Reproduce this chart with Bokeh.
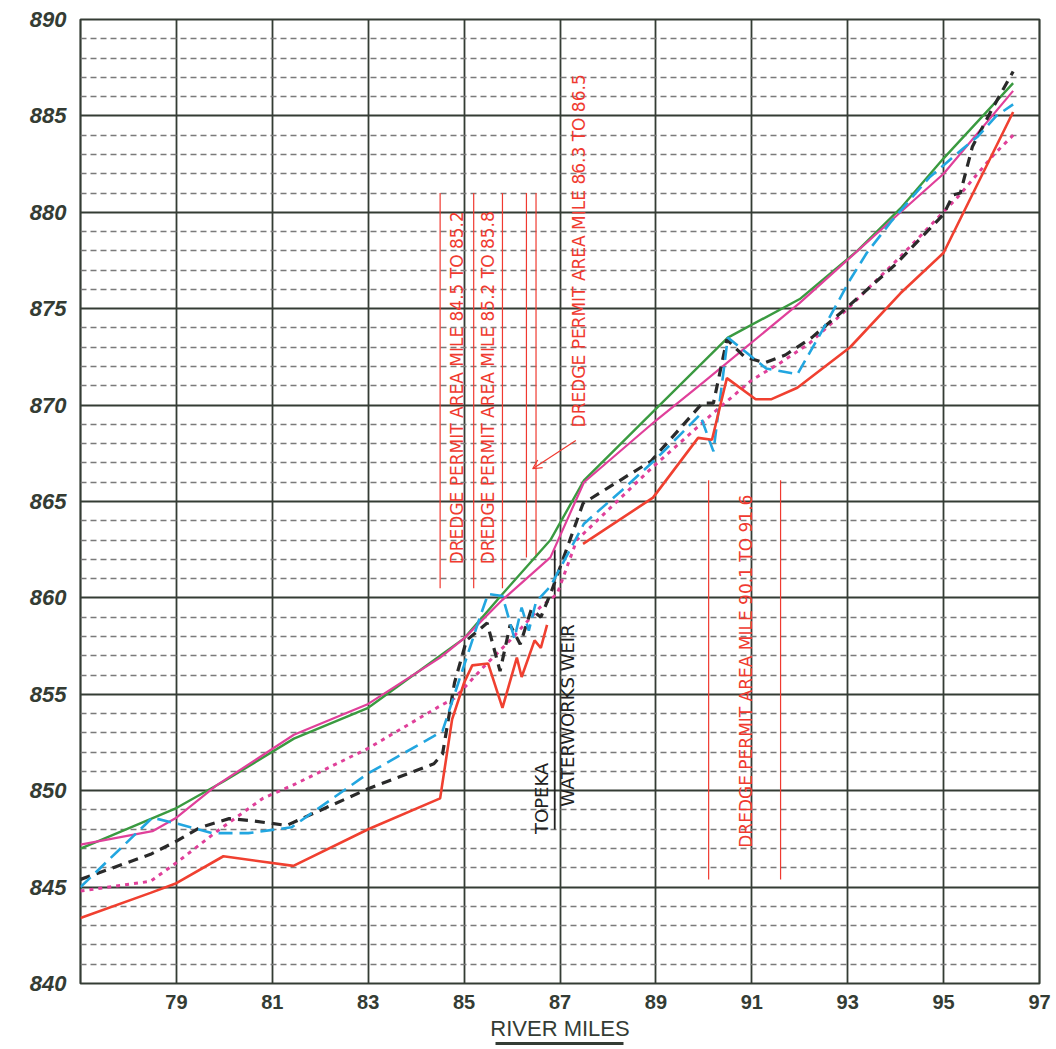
import math
from bokeh.plotting import figure
from bokeh.models import FixedTicker, Range1d, Arrow, OpenHead, LinearAxis
from bokeh.core.properties import value
from bokeh.embed import file_html
from bokeh.resources import INLINE

nan = float("nan")

# ---- data (river mile, elevation) ----
green_x = [77.0, 79.0, 80.0, 81.45, 83.0, 84.5, 85.0, 85.8, 86.8, 87.5, 89.0, 90.5, 92.0, 93.2, 94.1, 95.0, 96.45]
green_y = [847.0, 849.1, 850.5, 852.7, 854.3, 857.0, 857.9, 860.2, 863.0, 866.1, 869.8, 873.5, 875.5, 878.0, 880.2, 882.8, 886.7]

magenta_x = [77.0, 78.5, 79.0, 79.85, 81.45, 83.0, 84.5, 85.0, 85.8, 86.8, 87.5, 89.0, 90.0, 92.0, 94.1, 95.0, 96.45]
magenta_y = [847.2, 847.9, 848.6, 850.3, 852.9, 854.5, 856.9, 857.9, 859.9, 862.1, 866.0, 869.2, 871.2, 875.3, 880.0, 882.0, 886.3]

blue_x = [77.0, 78.5, 79.0, 79.75, 80.5, 81.4, 83.0, 84.35, 84.55, 84.88, 85.33, 85.5, 85.8, 86.05, 86.2, 86.35,
          86.5, 86.8, 87.5, 88.3, 89.0, 89.92, 90.2, 90.5, 90.9, 91.3, 91.95, 92.5, 93.05, 93.4, 93.9, 94.7, 95.4,
          95.7, 96.1, 96.45]
blue_y = [845.0, 848.6, 848.3, 847.8, 847.8, 848.1, 850.9, 852.8, 853.1, 855.6, 859.0, 860.2, 860.1, 857.9, 859.5, 858.3,
          859.8, 860.6, 863.85, 865.6, 867.2, 869.5, 867.6, 873.5, 872.7, 871.9, 871.6, 874.0, 876.5, 877.9, 879.5, 881.8, 883.3,
          883.9, 885.0, 885.6]

black_x = [77.0, 78.46, 78.94, 79.5, 80.1, 80.55, 81.3, 83.0, 84.37, 84.55, 84.8, 85.05, 85.48, 85.75, 85.96, 86.17,
           86.4, 86.6, 86.83, 87.48, 88.9, 89.97, 90.2, 90.48, 90.85, 91.27, 91.7, 92.25, 93.0, 94.0, 95.0, 95.2,
           95.35, 95.6, 96.0, 96.45]
black_y = [845.4, 846.7, 847.3, 848.1, 848.55, 848.45, 848.2, 850.1, 851.4, 851.9, 855.6, 857.8, 858.7, 856.2, 858.6, 857.6,
           859.4, 859.0, 860.4, 864.9, 867.1, 870.1, 870.1, 873.4, 872.5, 872.2, 872.6, 873.5, 875.1, 877.3, 879.9, 880.9,
           881.0, 883.4, 885.3, 887.3]

pink_x = [77.0, 78.46, 79.02, 79.85, 80.8, 81.44, 83.0, 84.5, 84.8, 85.4, 85.96, 86.58, 86.94, 87.35, 88.94, 90.2,
          91.0, 91.6, 92.2, 93.0, 94.1, 95.3, 96.05, 96.45]
pink_y = [844.8, 845.3, 846.3, 847.9, 849.6, 850.3, 852.2, 854.4, 854.8, 856.4, 857.8, 859.5, 860.2, 863.0, 866.8, 869.6,
          871.3, 872.2, 873.2, 875.0, 877.7, 880.8, 883.0, 884.0]

red_x = [77.0, 78.46, 79.0, 79.98, 81.44, 83.0, 84.5, 84.75, 85.0, 85.17, 85.5, 85.8, 86.1, 86.2, 86.47, 86.6, 86.73,
         nan, 87.48, 88.94, 89.88, 90.17, 90.48, 91.08, 91.4, 91.95, 93.05, 94.1, 95.0, 96.45]
red_y = [843.4, 844.7, 845.2, 846.6, 846.1, 848.0, 849.6, 853.7, 855.6, 856.5, 856.6, 854.3, 856.9, 855.9, 857.8, 857.4, 858.6,
         nan, 862.8, 865.2, 868.3, 868.2, 871.4, 870.3, 870.3, 870.9, 873.0, 875.8, 877.9, 885.2]

x_ticks = [79, 81, 83, 85, 87, 89, 91, 93, 95, 97]
y_ticks = [840, 845, 850, 855, 860, 865, 870, 875, 880, 885, 890]
y_minor = [v for v in range(841, 890) if v % 5 != 0]
x_title = "RIVER MILES"
x_title_underline = (85.66, 88.33)

# permit-area markers
permit_line_x = [84.5, 85.2, 85.8, 86.3, 86.5, 90.1, 91.6]
permit_line_top = [881.0, 881.0, 881.0, 881.0, 881.0, 866.1, 866.1]
permit_line_bottom = [860.5, 860.5, 860.5, 862.1, 862.1, 845.4, 845.4]
permit_text = ["DREDGE PERMIT AREA MILE 84.5 TO 85.2",
               "DREDGE PERMIT AREA MILE 85.2 TO 85.8",
               "DREDGE PERMIT AREA MILE 86.3 TO 86.5",
               "DREDGE PERMIT AREA MILE 90.1 TO 91.6"]
permit_text_x = [84.86, 85.49, 87.39, 90.87]
permit_text_y = [870.9, 870.9, 878.0, 856.2]

weir_mile = 86.89
weir_text = ["TOPEKA", "WATERWORKS WEIR"]
weir_text_x = [86.62, 87.16]
weir_text_y = [849.6, 853.9]

AX = "#343c34"

p = figure(width=1052, height=1046, x_range=Range1d(77, 97), y_range=Range1d(840, 890),
           output_backend="svg", toolbar_location=None,
           min_border_left=80, min_border_right=13, min_border_top=19, min_border_bottom=63)
p.background_fill_color = "white"
p.border_fill_color = "white"
p.outline_line_color = AX
p.outline_line_width = 2.2

p.xaxis.ticker = FixedTicker(ticks=x_ticks)
p.yaxis.ticker = FixedTicker(ticks=y_ticks, minor_ticks=y_minor)
for ax in (p.xaxis[0], p.yaxis[0]):
    ax.axis_line_color = None
    ax.major_tick_line_color = None
    ax.minor_tick_line_color = None
    ax.major_label_text_color = AX
    ax.major_label_text_font = "Liberation Sans"
p.xaxis.major_label_text_font_size = "20px"
p.xaxis.major_label_text_font_style = "bold"
p.xaxis.major_label_standoff = 5
p.xaxis.axis_label = x_title
p.xaxis.axis_label_text_font = "Liberation Sans"
p.xaxis.axis_label_text_font_style = "normal"
p.xaxis.axis_label_text_font_size = "22px"
p.xaxis.axis_label_text_color = AX
p.xaxis.axis_label_standoff = 4
p.yaxis.major_label_text_font_size = "22px"
p.yaxis.major_label_text_font_style = "bold italic"
p.yaxis.major_label_standoff = 8

# underline of the axis title: a bare axis line with bounds
under = LinearAxis(bounds=x_title_underline, ticker=FixedTicker(ticks=[]),
                   axis_line_color=AX, axis_line_width=3,
                   major_tick_line_color=None, minor_tick_line_color=None,
                   major_label_text_font_size="0px")
p.add_layout(under, "below")

p.xgrid.grid_line_color = AX
p.xgrid.grid_line_width = 1.8
p.ygrid.grid_line_color = AX
p.ygrid.grid_line_width = 1.8
p.ygrid.minor_grid_line_color = "#7a7a7a"
p.ygrid.minor_grid_line_width = 1.3
p.ygrid.minor_grid_line_dash = "6 4"

# permit lines and texts
p.segment(x0=permit_line_x, y0=permit_line_bottom, x1=permit_line_x, y1=permit_line_top,
          line_color="#f03a30", line_width=1.2)
p.text(x=permit_text_x, y=permit_text_y, text=permit_text, angle=math.pi / 2,
       text_align="center", text_baseline="middle", text_color="#f03a30",
       text_font=value("DejaVu Sans"), text_font_size="17px")
p.add_layout(Arrow(end=OpenHead(size=9, line_color="#f03a30", line_width=1.2),
                   x_start=87.33, y_start=868.16, x_end=86.43, y_end=866.7,
                   line_color="#f03a30", line_width=1.2))

# weir marker
p.segment(x0=[weir_mile], y0=[848.0], x1=[weir_mile], y1=[862.5], line_color="#222222", line_width=1.8)
p.text(x=weir_text_x, y=weir_text_y, text=weir_text, angle=math.pi / 2,
       text_align="center", text_baseline="middle", text_color="#222222",
       text_font=value("DejaVu Sans"), text_font_size="18px")

# profiles
p.line(green_x, green_y, line_color="#3a9a40", line_width=2.4)
p.line(magenta_x, magenta_y, line_color="#e0409a", line_width=2.2)
p.line(pink_x, pink_y, line_color="#e0409a", line_width=3, line_dash="4 5")
p.line(black_x, black_y, line_color="#2a2a2a", line_width=3.2, line_dash="10 7")
p.line(blue_x, blue_y, line_color="#22a6e0", line_width=2.6, line_dash="14 7")
p.line(red_x, red_y, line_color="#f04030", line_width=2.6)

open("out.html", "w").write(file_html(p, INLINE))
